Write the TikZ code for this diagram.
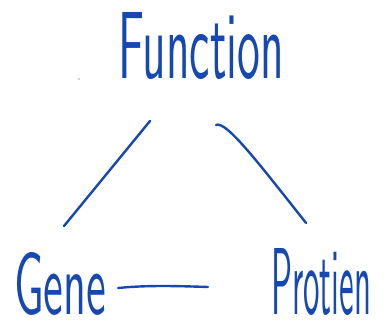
\documentclass[tikz,border=0pt]{standalone}
\usepackage{graphicx}
\usetikzlibrary{calc}
\definecolor{ink}{RGB}{22,72,178}
\tikzset{
  word/.style={inner sep=0pt, outer sep=0pt, text=ink, font=\sffamily},
  conn/.style={draw=ink, line width=2.4pt, line cap=round}
}
\begin{document}
\begin{tikzpicture}[x=1pt,y=-1pt]
  \path[use as bounding box] (0,0) rectangle (385,332);

  % the three words
  \node[word, anchor=south west] (function) at (118,80) {\resizebox{166pt}{66pt}{Function}};
  \node[word, anchor=south west] (gene) at (14,315) {\resizebox{92pt}{62pt}{Gene}};
  \node[word, anchor=south west] (protien) at (271,316) {\resizebox{100pt}{66pt}{Protien}};

  % links between them
  \draw[conn] ($(gene.north)+(4,-26)$) -- ($(function.south west)+(32,41)$);
  \draw[conn] ($(function.south east)+(-68,45)$)
      .. controls ($(function.south east)+(-58,40)$) and ($(function.south east)+(-24,85)$)
      .. ($(protien.north)+(-15,-26)$);
  \draw[conn] ($(gene.south east)+(12,-27)$)
      .. controls ($(gene.south east)+(42,-30)$) and ($(gene.south east)+(72,-29)$)
      .. ($(gene.south east)+(102,-28)$);

  % small speck
  \fill[gray!70] (79,79) circle (0.9);
\end{tikzpicture}
\end{document}
